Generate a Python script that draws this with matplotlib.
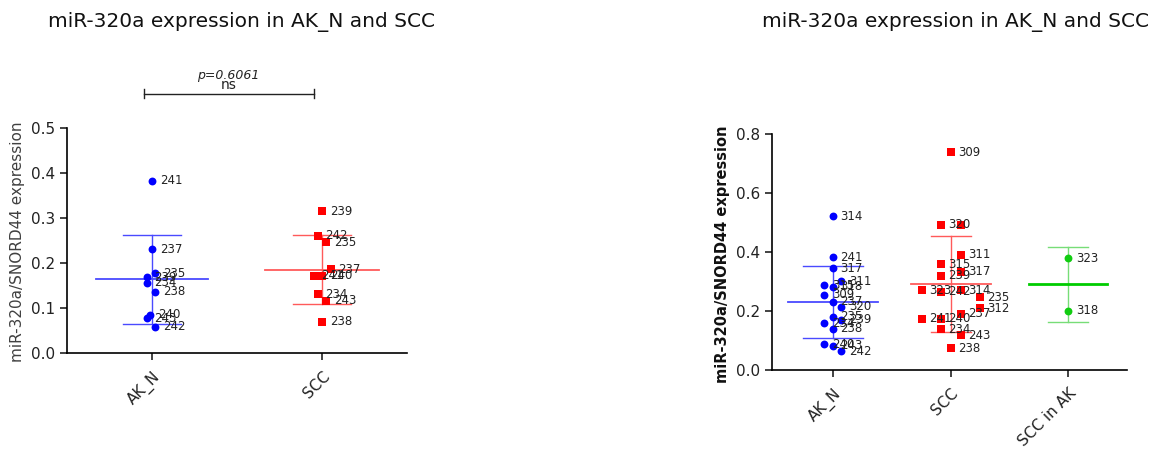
import matplotlib
matplotlib.use("Agg")
import matplotlib.pyplot as plt
import numpy as np

plt.rcParams['font.family'] = ['DejaVu Sans']

# ---- left panel: AK_N vs SCC ----
groups_a = ['AK_N', 'SCC']
akn_a_val = [0.383, 0.231, 0.178, 0.169, 0.157, 0.137, 0.085, 0.078, 0.059]
akn_a_lab = ['241', '237', '235', '239', '234', '238', '240', '243', '242']
akn_a_jit = [0, 0, 0.02, -0.03, -0.03, 0.02, -0.01, -0.03, 0.02]
scc_a_val = [0.315, 0.261, 0.246, 0.187, 0.172, 0.172, 0.131, 0.117, 0.070]
scc_a_lab = ['239', '242', '235', '237', '241', '240', '234', '243', '238']
scc_a_jit = [0, -0.024, 0.026, 0.05, -0.05, 0, -0.024, 0.026, 0]
p_text = 'p=0.6061'

# ---- right panel: AK_N vs SCC vs SCC in AK ----
groups_b = ['AK_N', 'SCC', 'SCC in AK']
akn_b_val = [0.522, 0.383, 0.345, 0.300, 0.288, 0.282, 0.255, 0.231,
             0.214, 0.180, 0.171, 0.158, 0.139, 0.088, 0.082, 0.064]
akn_b_lab = ['314', '241', '317', '311', '315', '318', '309', '237',
             '320', '235', '239', '234', '238', '240', '243', '242']
akn_b_jit = [0, 0, 0, 0.07, -0.075, 0, -0.075, 0,
             0.07, 0, 0.07, -0.075, 0, -0.075, 0, 0.07]
scc_b_val = [0.738, 0.492, 0.492, 0.391, 0.358, 0.333, 0.319, 0.271, 0.265,
             0.271, 0.246, 0.209, 0.190, 0.174, 0.174, 0.138, 0.118, 0.073]
scc_b_lab = ['309', '320', '', '311', '315', '317', '239', '323', '242',
             '314', '235', '312', '237', '241', '240', '234', '243', '238']
scc_b_jit = [0, -0.085, 0.085, 0.085, -0.085, 0.085, -0.085, -0.245, -0.085,
             0.085, 0.25, 0.25, 0.085, -0.245, -0.085, -0.085, 0.085, 0]
sccak_b_val = [0.379, 0.201]
sccak_b_lab = ['323', '318']
sccak_b_jit = [0, 0]

BLUE = '#0000ff'
RED = '#ff0000'
GREEN = '#00cc00'


def draw_group(ax, x, vals, labs, jit, color, marker, linecol, mean_w, cap_w,
               mean_lw=1.3, cap_col=None):
    vals = np.array(vals)
    m = vals.mean()
    sd = vals.std(ddof=1)
    if cap_col is None:
        cap_col = linecol
    ax.plot([x, x], [m - sd, m + sd], color=cap_col, lw=1.0, zorder=2)
    ax.plot([x - cap_w, x + cap_w], [m + sd, m + sd], color=cap_col, lw=1.0, zorder=2)
    ax.plot([x - cap_w, x + cap_w], [m - sd, m - sd], color=cap_col, lw=1.0, zorder=2)
    ax.plot([x - mean_w, x + mean_w], [m, m], color=linecol, lw=mean_lw, zorder=2)
    xs = x + np.array(jit)
    ax.scatter(xs, vals, s=32, c=color, marker=marker, zorder=3, linewidths=0)
    for xi, yi, t in zip(xs, vals, labs):
        ax.annotate(t, (xi, yi), xytext=(5.5, 0), textcoords='offset points',
                    va='center', ha='left', fontsize=8.5, color='#222222', zorder=4)


def style_axes(ax, ymax, step, names):
    for s in ['top', 'right']:
        ax.spines[s].set_visible(False)
    ax.spines['left'].set_linewidth(1.2)
    ax.spines['bottom'].set_linewidth(1.2)
    ax.set_ylim(0, ymax)
    ax.set_yticks(np.arange(0, ymax + step / 2, step))
    ax.yaxis.set_major_formatter(matplotlib.ticker.FormatStrFormatter('%.1f'))
    ax.set_xticks(range(len(names)))
    ax.set_xticklabels(names, rotation=45, ha='right', va='top',
                       rotation_mode='anchor')
    ax.tick_params(axis='both', direction='out', length=5, width=1.2,
                   labelsize=11, colors='#222222')
    ax.tick_params(axis='x', pad=6)


fig = plt.figure(figsize=(11.67, 4.5), dpi=100)

# left
ax1 = fig.add_axes([0.0574, 0.2149, 0.2914, 0.5007])
draw_group(ax1, 0, akn_a_val, akn_a_lab, akn_a_jit, BLUE, 'o', '#4a4aff', 0.33, 0.17)
draw_group(ax1, 1, scc_a_val, scc_a_lab, scc_a_jit, RED, 's', '#ff5a5a', 0.335, 0.17)
ax1.set_xlim(-0.5, 1.5)
style_axes(ax1, 0.5, 0.1, groups_a)
# significance bracket above the plot
yb = 0.576
ax1.plot([-0.05, 0.95], [yb, yb], color='#222222', lw=1.0, clip_on=False)
ax1.plot([-0.05, -0.05], [yb - 0.01, yb + 0.01], color='#222222', lw=1.0, clip_on=False)
ax1.plot([0.95, 0.95], [yb - 0.01, yb + 0.01], color='#222222', lw=1.0, clip_on=False)
ax1.text(0.45, yb + 0.004, 'ns', ha='center', va='bottom', fontsize=10,
         color='#222222')
ax1.text(0.45, yb + 0.027, p_text, ha='center', va='bottom', fontsize=9,
         style='italic', color='#222222')
fig.text(0.015, 0.462, 'miR-320a/SNORD44 expression', rotation=90,
         ha='center', va='center', fontsize=11, color='#404040')
fig.text(0.207, 0.951, 'miR-320a expression in AK_N and SCC', ha='center',
         va='center', fontsize=14.5, color='#111111')

# right
ax2 = fig.add_axes([0.6613, 0.1778, 0.3044, 0.5244])
draw_group(ax2, 0, akn_b_val, akn_b_lab, akn_b_jit, BLUE, 'o', '#4a4aff', 0.38, 0.255)
draw_group(ax2, 1, scc_b_val, scc_b_lab, scc_b_jit, RED, 's', '#ff5a5a', 0.34, 0.17)
draw_group(ax2, 2, sccak_b_val, sccak_b_lab, sccak_b_jit, '#11cc11', 'o', GREEN,
           0.33, 0.17, mean_lw=2.0, cap_col='#77dd77')
ax2.set_xlim(-0.52, 2.5)
style_axes(ax2, 0.8, 0.2, groups_b)
fig.text(0.6195, 0.435, 'miR-320a/SNORD44 expression', rotation=90,
         ha='center', va='center', fontsize=10.5, fontweight='bold', color='#111111')
fig.text(0.819, 0.951, 'miR-320a expression in AK_N and SCC', ha='center',
         va='center', fontsize=14.5, color='#111111')

fig.savefig('out.png', dpi=100)
